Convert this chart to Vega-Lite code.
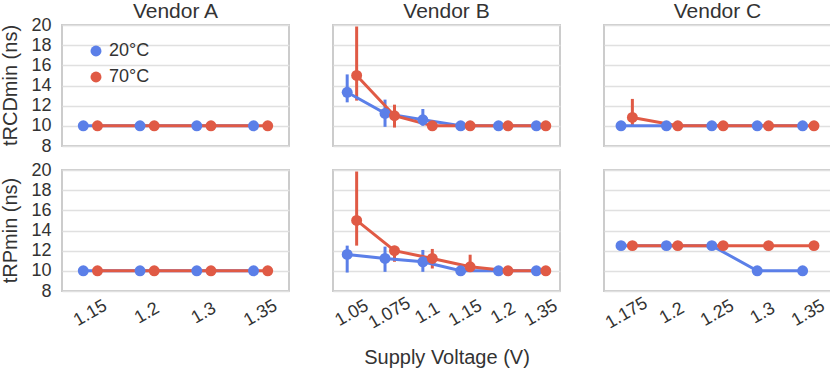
{
  "$schema": "https://vega.github.io/schema/vega-lite/v6.json",
  "padding": {"left": 0, "top": 1, "right": 0, "bottom": 0},
  "background": "white",
  "data": {"values": [
    {"vendor": "Vendor A", "metric": "tRCDmin (ns)", "volt": "1.15", "temp": "20°C", "value": 10},
    {"vendor": "Vendor A", "metric": "tRCDmin (ns)", "volt": "1.2", "temp": "20°C", "value": 10},
    {"vendor": "Vendor A", "metric": "tRCDmin (ns)", "volt": "1.3", "temp": "20°C", "value": 10},
    {"vendor": "Vendor A", "metric": "tRCDmin (ns)", "volt": "1.35", "temp": "20°C", "value": 10},
    {"vendor": "Vendor A", "metric": "tRCDmin (ns)", "volt": "1.15", "temp": "70°C", "value": 10},
    {"vendor": "Vendor A", "metric": "tRCDmin (ns)", "volt": "1.2", "temp": "70°C", "value": 10},
    {"vendor": "Vendor A", "metric": "tRCDmin (ns)", "volt": "1.3", "temp": "70°C", "value": 10},
    {"vendor": "Vendor A", "metric": "tRCDmin (ns)", "volt": "1.35", "temp": "70°C", "value": 10},
    {"vendor": "Vendor A", "metric": "tRPmin (ns)", "volt": "1.15", "temp": "20°C", "value": 10},
    {"vendor": "Vendor A", "metric": "tRPmin (ns)", "volt": "1.2", "temp": "20°C", "value": 10},
    {"vendor": "Vendor A", "metric": "tRPmin (ns)", "volt": "1.3", "temp": "20°C", "value": 10},
    {"vendor": "Vendor A", "metric": "tRPmin (ns)", "volt": "1.35", "temp": "20°C", "value": 10},
    {"vendor": "Vendor A", "metric": "tRPmin (ns)", "volt": "1.15", "temp": "70°C", "value": 10},
    {"vendor": "Vendor A", "metric": "tRPmin (ns)", "volt": "1.2", "temp": "70°C", "value": 10},
    {"vendor": "Vendor A", "metric": "tRPmin (ns)", "volt": "1.3", "temp": "70°C", "value": 10},
    {"vendor": "Vendor A", "metric": "tRPmin (ns)", "volt": "1.35", "temp": "70°C", "value": 10},

    {"vendor": "Vendor B", "metric": "tRCDmin (ns)", "volt": "1.05", "temp": "20°C", "value": 13.33, "lo": 12.33, "hi": 15.1},
    {"vendor": "Vendor B", "metric": "tRCDmin (ns)", "volt": "1.075", "temp": "20°C", "value": 11.23, "lo": 9.9, "hi": 12.6},
    {"vendor": "Vendor B", "metric": "tRCDmin (ns)", "volt": "1.1", "temp": "20°C", "value": 10.6, "lo": 10, "hi": 11.67},
    {"vendor": "Vendor B", "metric": "tRCDmin (ns)", "volt": "1.15", "temp": "20°C", "value": 10},
    {"vendor": "Vendor B", "metric": "tRCDmin (ns)", "volt": "1.2", "temp": "20°C", "value": 10},
    {"vendor": "Vendor B", "metric": "tRCDmin (ns)", "volt": "1.35", "temp": "20°C", "value": 10},
    {"vendor": "Vendor B", "metric": "tRCDmin (ns)", "volt": "1.05", "temp": "70°C", "value": 15, "lo": 12.5, "hi": 19.85},
    {"vendor": "Vendor B", "metric": "tRCDmin (ns)", "volt": "1.075", "temp": "70°C", "value": 11.0, "lo": 9.83, "hi": 12.1},
    {"vendor": "Vendor B", "metric": "tRCDmin (ns)", "volt": "1.1", "temp": "70°C", "value": 10},
    {"vendor": "Vendor B", "metric": "tRCDmin (ns)", "volt": "1.15", "temp": "70°C", "value": 10},
    {"vendor": "Vendor B", "metric": "tRCDmin (ns)", "volt": "1.2", "temp": "70°C", "value": 10},
    {"vendor": "Vendor B", "metric": "tRCDmin (ns)", "volt": "1.35", "temp": "70°C", "value": 10},
    {"vendor": "Vendor B", "metric": "tRPmin (ns)", "volt": "1.05", "temp": "20°C", "value": 11.63, "lo": 9.83, "hi": 12.5},
    {"vendor": "Vendor B", "metric": "tRPmin (ns)", "volt": "1.075", "temp": "20°C", "value": 11.23, "lo": 9.9, "hi": 12.4},
    {"vendor": "Vendor B", "metric": "tRPmin (ns)", "volt": "1.1", "temp": "20°C", "value": 10.9, "lo": 9.9, "hi": 12.07},
    {"vendor": "Vendor B", "metric": "tRPmin (ns)", "volt": "1.15", "temp": "20°C", "value": 10},
    {"vendor": "Vendor B", "metric": "tRPmin (ns)", "volt": "1.2", "temp": "20°C", "value": 10},
    {"vendor": "Vendor B", "metric": "tRPmin (ns)", "volt": "1.35", "temp": "20°C", "value": 10},
    {"vendor": "Vendor B", "metric": "tRPmin (ns)", "volt": "1.05", "temp": "70°C", "value": 15, "lo": 12.5, "hi": 19.85},
    {"vendor": "Vendor B", "metric": "tRPmin (ns)", "volt": "1.075", "temp": "70°C", "value": 12.0, "lo": 10.9, "hi": 12.47},
    {"vendor": "Vendor B", "metric": "tRPmin (ns)", "volt": "1.1", "temp": "70°C", "value": 11.23, "lo": 10.23, "hi": 12.17},
    {"vendor": "Vendor B", "metric": "tRPmin (ns)", "volt": "1.15", "temp": "70°C", "value": 10.4, "lo": 9.9, "hi": 11.6},
    {"vendor": "Vendor B", "metric": "tRPmin (ns)", "volt": "1.2", "temp": "70°C", "value": 10},
    {"vendor": "Vendor B", "metric": "tRPmin (ns)", "volt": "1.35", "temp": "70°C", "value": 10},

    {"vendor": "Vendor C", "metric": "tRCDmin (ns)", "volt": "1.175", "temp": "20°C", "value": 10},
    {"vendor": "Vendor C", "metric": "tRCDmin (ns)", "volt": "1.2", "temp": "20°C", "value": 10},
    {"vendor": "Vendor C", "metric": "tRCDmin (ns)", "volt": "1.25", "temp": "20°C", "value": 10},
    {"vendor": "Vendor C", "metric": "tRCDmin (ns)", "volt": "1.3", "temp": "20°C", "value": 10},
    {"vendor": "Vendor C", "metric": "tRCDmin (ns)", "volt": "1.35", "temp": "20°C", "value": 10},
    {"vendor": "Vendor C", "metric": "tRCDmin (ns)", "volt": "1.175", "temp": "70°C", "value": 10.83, "lo": 9.9, "hi": 12.67},
    {"vendor": "Vendor C", "metric": "tRCDmin (ns)", "volt": "1.2", "temp": "70°C", "value": 10},
    {"vendor": "Vendor C", "metric": "tRCDmin (ns)", "volt": "1.25", "temp": "70°C", "value": 10},
    {"vendor": "Vendor C", "metric": "tRCDmin (ns)", "volt": "1.3", "temp": "70°C", "value": 10},
    {"vendor": "Vendor C", "metric": "tRCDmin (ns)", "volt": "1.35", "temp": "70°C", "value": 10},
    {"vendor": "Vendor C", "metric": "tRPmin (ns)", "volt": "1.175", "temp": "20°C", "value": 12.5},
    {"vendor": "Vendor C", "metric": "tRPmin (ns)", "volt": "1.2", "temp": "20°C", "value": 12.5},
    {"vendor": "Vendor C", "metric": "tRPmin (ns)", "volt": "1.25", "temp": "20°C", "value": 12.5},
    {"vendor": "Vendor C", "metric": "tRPmin (ns)", "volt": "1.3", "temp": "20°C", "value": 10},
    {"vendor": "Vendor C", "metric": "tRPmin (ns)", "volt": "1.35", "temp": "20°C", "value": 10},
    {"vendor": "Vendor C", "metric": "tRPmin (ns)", "volt": "1.175", "temp": "70°C", "value": 12.5},
    {"vendor": "Vendor C", "metric": "tRPmin (ns)", "volt": "1.2", "temp": "70°C", "value": 12.5},
    {"vendor": "Vendor C", "metric": "tRPmin (ns)", "volt": "1.25", "temp": "70°C", "value": 12.5},
    {"vendor": "Vendor C", "metric": "tRPmin (ns)", "volt": "1.3", "temp": "70°C", "value": 12.5},
    {"vendor": "Vendor C", "metric": "tRPmin (ns)", "volt": "1.35", "temp": "70°C", "value": 12.5}
  ]},
  "config": {
    "font": "Liberation Sans",
    "view": {"stroke": "#cccccc", "strokeWidth": 2},
    "axis": {"domain": false, "ticks": false, "labelOverlap": false, "labelFont": "Liberation Sans", "labelFontSize": 18, "labelColor": "#333333", "titleFont": "Liberation Sans", "titleFontSize": 20, "titleFontWeight": "normal", "titleColor": "#333333", "gridColor": "#e0e0e0", "gridWidth": 1.5},
    "header": {"labelFont": "Liberation Sans", "labelColor": "#333333"},
    "legend": {"labelFont": "Liberation Sans", "labelFontSize": 18, "labelColor": "#333333", "symbolType": "circle", "symbolSize": 120, "symbolStrokeWidth": 0, "rowPadding": 8, "labelOffset": 4}
  },
  "spacing": 41,
  "hconcat": [
    {
      "transform": [{"filter": "datum.vendor === 'Vendor A'"}],
      "facet": {
        "row": {"field": "metric", "type": "nominal", "sort": ["tRCDmin (ns)", "tRPmin (ns)"], "header": {"title": null, "labelAngle": -90, "labelOrient": "left", "labelAlign": "center", "labelFontSize": 20, "labelPadding": 0}},
        "column": {"field": "vendor", "type": "nominal", "header": {"title": null, "labelFontSize": 21, "labelPadding": 2}}
      },
      "spacing": {"row": 22},
      "spec": {
        "width": 227, "height": 121,
        "encoding": {
          "x": {"field": "volt", "type": "nominal", "sort": "ascending", "scale": {"type": "band", "paddingInner": 0, "paddingOuter": 0}, "axis": {"title": null, "labelAngle": -30, "labelAlign": "center", "labelBaseline": "middle", "labelPadding": 21, "grid": false}},
          "xOffset": {"field": "temp", "type": "nominal", "scale": {"paddingInner": 0, "paddingOuter": 1.5}},
          "color": {"field": "temp", "type": "nominal", "scale": {"domain": ["20°C", "70°C"], "range": ["#5b7fe8", "#e05a45"]}, "legend": {"title": null, "orient": "none", "legendX": 25, "legendY": 17}}
        },
        "layer": [
          {"mark": {"type": "rule", "strokeWidth": 3}, "encoding": {"y": {"field": "lo", "type": "quantitative", "scale": {"domain": [8, 20], "zero": false}}, "y2": {"field": "hi"}}},
          {"mark": {"type": "line", "strokeWidth": 3}, "encoding": {"y": {"field": "value", "type": "quantitative", "scale": {"domain": [8, 20], "zero": false}, "axis": {"title": null, "values": [8, 10, 12, 14, 16, 18, 20], "tickCount": 7, "labelOverlap": false, "labelPadding": 10}}}},
          {"mark": {"type": "point", "filled": true, "size": 120, "opacity": 1}, "encoding": {"y": {"field": "value", "type": "quantitative", "scale": {"domain": [8, 20], "zero": false}}}}
        ]
      }
    },
    {
      "transform": [{"filter": "datum.vendor === 'Vendor B'"}],
      "facet": {
        "row": {"field": "metric", "type": "nominal", "sort": ["tRCDmin (ns)", "tRPmin (ns)"], "header": {"title": null, "labels": false, "labelPadding": 0}},
        "column": {"field": "vendor", "type": "nominal", "header": {"title": null, "labelFontSize": 21, "labelPadding": 2}}
      },
      "spacing": {"row": 22},
      "spec": {
        "width": 227, "height": 121,
        "encoding": {
          "x": {"field": "volt", "type": "nominal", "sort": "ascending", "scale": {"type": "band", "paddingInner": 0, "paddingOuter": 0}, "axis": {"title": "Supply Voltage (V)", "titlePadding": 15, "labelAngle": -30, "labelAlign": "center", "labelBaseline": "middle", "labelPadding": 21, "grid": false}},
          "xOffset": {"field": "temp", "type": "nominal", "scale": {"paddingInner": 0, "paddingOuter": 1.5}},
          "color": {"field": "temp", "type": "nominal", "scale": {"domain": ["20°C", "70°C"], "range": ["#5b7fe8", "#e05a45"]}}
        },
        "layer": [
          {"mark": {"type": "rule", "strokeWidth": 3}, "encoding": {"y": {"field": "lo", "type": "quantitative", "scale": {"domain": [8, 20], "zero": false}}, "y2": {"field": "hi"}}},
          {"mark": {"type": "line", "strokeWidth": 3}, "encoding": {"y": {"field": "value", "type": "quantitative", "scale": {"domain": [8, 20], "zero": false}, "axis": {"title": null, "values": [8, 10, 12, 14, 16, 18, 20], "tickCount": 7, "labels": false, "labelPadding": 0}}}},
          {"mark": {"type": "point", "filled": true, "size": 120, "opacity": 1}, "encoding": {"y": {"field": "value", "type": "quantitative", "scale": {"domain": [8, 20], "zero": false}}}}
        ]
      }
    },
    {
      "transform": [{"filter": "datum.vendor === 'Vendor C'"}],
      "facet": {
        "row": {"field": "metric", "type": "nominal", "sort": ["tRCDmin (ns)", "tRPmin (ns)"], "header": {"title": null, "labels": false, "labelPadding": 0}},
        "column": {"field": "vendor", "type": "nominal", "header": {"title": null, "labelFontSize": 21, "labelPadding": 2}}
      },
      "spacing": {"row": 22},
      "spec": {
        "width": 227, "height": 121,
        "encoding": {
          "x": {"field": "volt", "type": "nominal", "sort": "ascending", "scale": {"type": "band", "paddingInner": 0, "paddingOuter": 0}, "axis": {"title": null, "labelAngle": -30, "labelAlign": "center", "labelBaseline": "middle", "labelPadding": 21, "grid": false}},
          "xOffset": {"field": "temp", "type": "nominal", "scale": {"paddingInner": 0, "paddingOuter": 1.5}},
          "color": {"field": "temp", "type": "nominal", "scale": {"domain": ["20°C", "70°C"], "range": ["#5b7fe8", "#e05a45"]}}
        },
        "layer": [
          {"mark": {"type": "rule", "strokeWidth": 3}, "encoding": {"y": {"field": "lo", "type": "quantitative", "scale": {"domain": [8, 20], "zero": false}}, "y2": {"field": "hi"}}},
          {"mark": {"type": "line", "strokeWidth": 3}, "encoding": {"y": {"field": "value", "type": "quantitative", "scale": {"domain": [8, 20], "zero": false}, "axis": {"title": null, "values": [8, 10, 12, 14, 16, 18, 20], "tickCount": 7, "labels": false, "labelPadding": 0}}}},
          {"mark": {"type": "point", "filled": true, "size": 120, "opacity": 1}, "encoding": {"y": {"field": "value", "type": "quantitative", "scale": {"domain": [8, 20], "zero": false}}}}
        ]
      }
    }
  ],
  "resolve": {"scale": {"x": "independent", "xOffset": "independent"}}
}
